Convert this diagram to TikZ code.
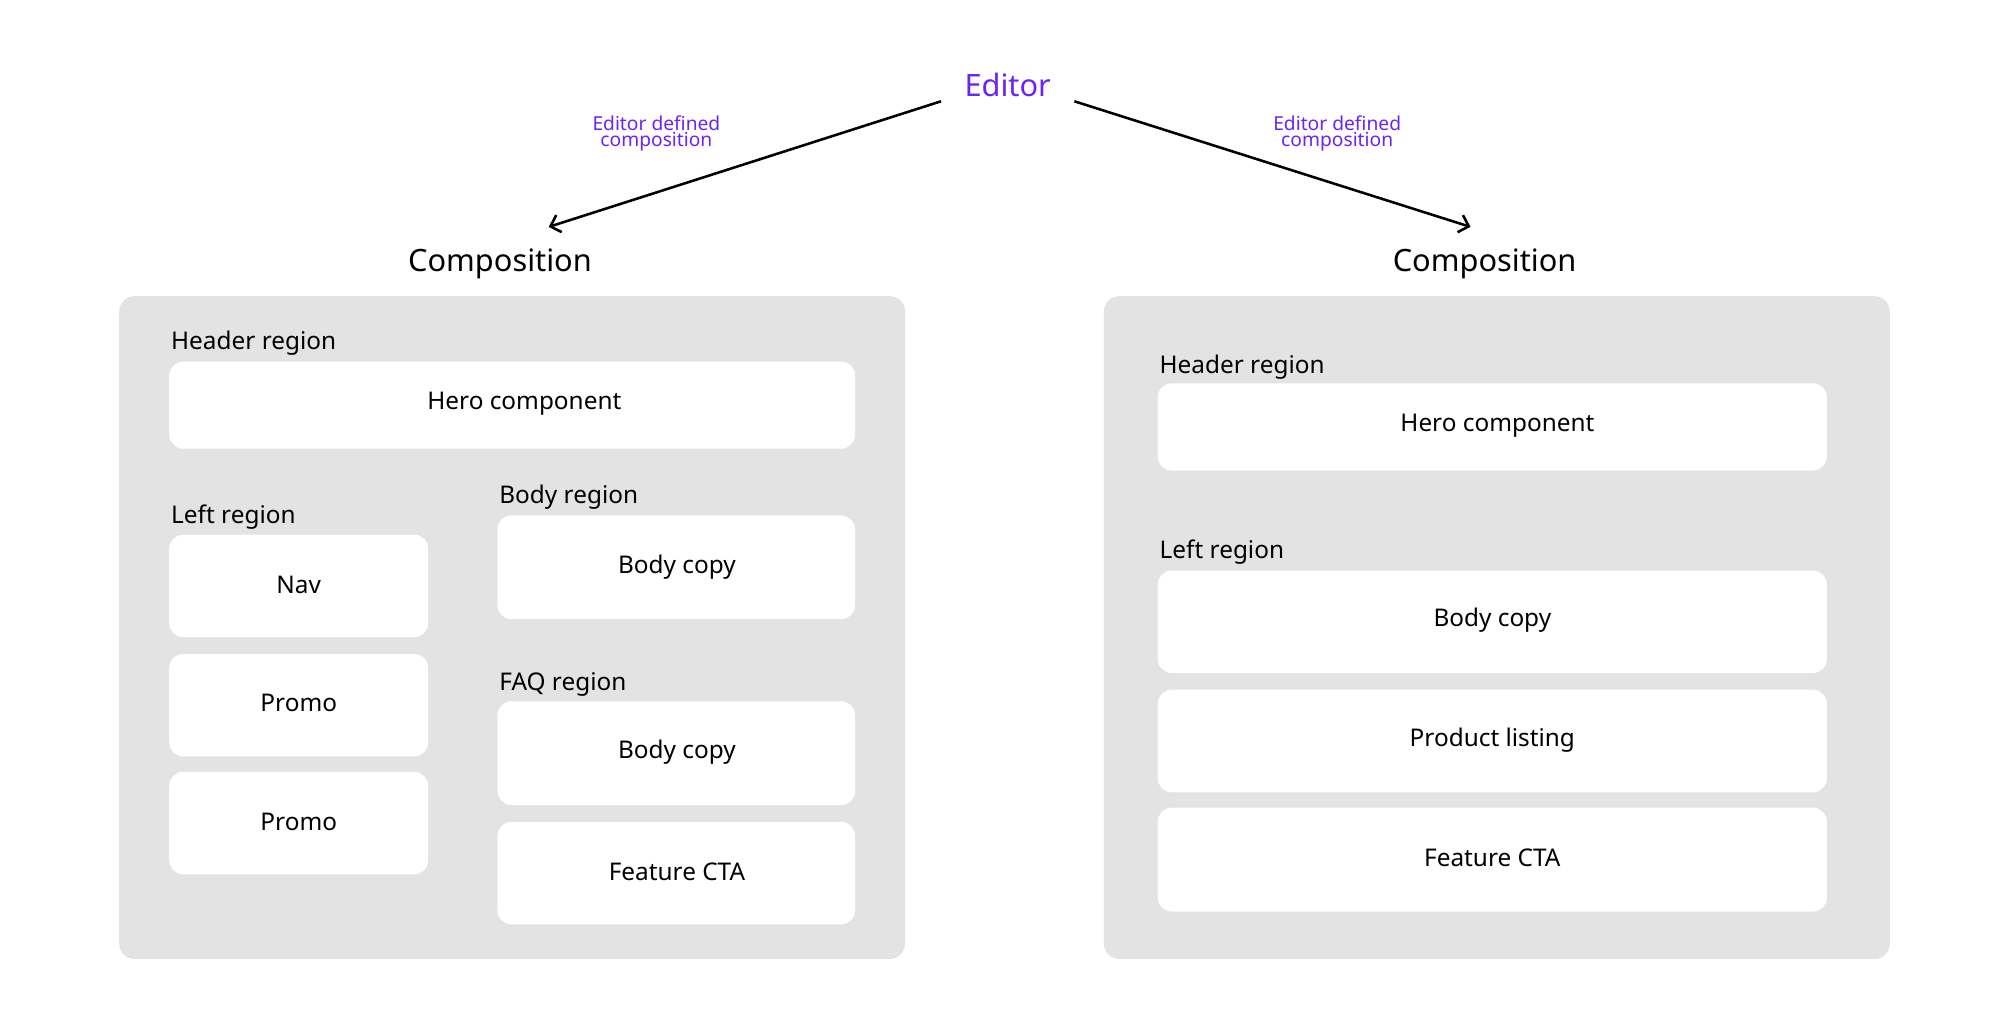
\documentclass[tikz,border=0pt]{standalone}
\usepackage{fontspec}
\setmainfont{Noto Sans}
\usetikzlibrary{arrows.meta}
\definecolor{purp}{HTML}{6B24F5}
\definecolor{panel}{HTML}{E3E3E3}
\begin{document}
\begin{tikzpicture}[x=1pt,y=-1pt,
  panel/.style={fill=panel,rounded corners=12pt},
  card/.style={fill=white,rounded corners=11pt},
  lbl/.style={anchor=west,font=\fontsize{19}{22}\selectfont},
  ctext/.style={font=\fontsize{19}{22}\selectfont},
  small/.style={text=purp,align=center,font=\fontsize{15}{16}\selectfont},
  arr/.style={line width=2pt,-{Straight Barb[length=7pt,width=14pt]}}]
\useasboundingbox (0,0) rectangle (1560,802);
\node[text=purp,font=\fontsize{24}{28}\selectfont] (ed) at (786,66) {Editor};
\coordinate (ls) at (734,79); \coordinate (le) at (428,177);
\coordinate (rs) at (838,79); \coordinate (re) at (1147,177);
\draw[arr] (ls) -- (le);
\draw[arr] (rs) -- (re);
\node[small] (l1) at (512,104) {Editor defined\\[-3pt]composition};
\node[small] (l2) at (1043,104) {Editor defined\\[-3pt]composition};
\node[font=\fontsize{24}{28}\selectfont] (c1) at (390,206) {Composition};
\node[font=\fontsize{24}{28}\selectfont] (c2) at (1158,206) {Composition};
% left panel
\fill[panel] (93,231) rectangle (706,748);
\node[lbl] at (130,268) {Header region};
\fill[card] (132,282) rectangle (667,350); \node[ctext] at (409,315) {Hero component};
\node[lbl] at (130,403) {Left region};
\fill[card] (132,417) rectangle (334,497); \node[ctext] at (233,456) {Nav};
\fill[card] (132,510) rectangle (334,590); \node[ctext] at (233,548) {Promo};
\fill[card] (132,602) rectangle (334,682); \node[ctext] at (233,641) {Promo};
\node[lbl] at (386,388) {Body region};
\fill[card] (388,402) rectangle (667,483); \node[ctext] at (528,442) {Body copy};
\node[lbl] at (386,534) {FAQ region};
\fill[card] (388,547) rectangle (667,628); \node[ctext] at (528,587) {Body copy};
\fill[card] (388,641) rectangle (667,721); \node[ctext] at (528,680) {Feature CTA};
% right panel
\fill[panel] (861,231) rectangle (1474,748);
\node[lbl] at (901,286) {Header region};
\fill[card] (903,299) rectangle (1425,367); \node[ctext] at (1168,332) {Hero component};
\node[lbl] at (901,431) {Left region};
\fill[card] (903,445) rectangle (1425,525); \node[ctext] at (1164,484) {Body copy};
\fill[card] (903,538) rectangle (1425,618); \node[ctext] at (1164,577) {Product listing};
\fill[card] (903,630) rectangle (1425,711); \node[ctext] at (1164,669) {Feature CTA};
\end{tikzpicture}
\end{document}
